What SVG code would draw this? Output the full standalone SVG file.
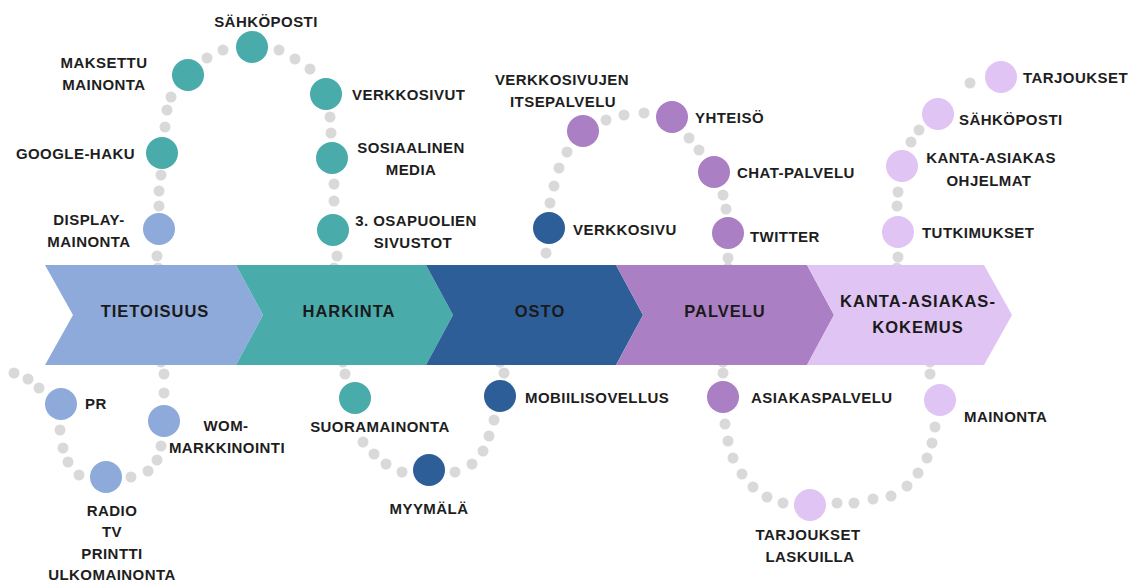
<svg xmlns="http://www.w3.org/2000/svg" width="1137" height="583" viewBox="0 0 1137 583">
  <style>
    .lbl { font-family: "Liberation Sans", Arial, sans-serif; font-weight: bold; font-size: 15px; letter-spacing: 0.45px; fill: #1e1e1e; }
    .mid { text-anchor: middle; }
    .stage { font-family: "Liberation Sans", Arial, sans-serif; font-weight: bold; font-size: 16.5px; letter-spacing: 1px; fill: #1a1a1a; text-anchor: middle; }
    .dot { fill: #d9d9d9; }
    .teal { fill: #4aabab; }
    .lblue { fill: #8eaadb; }
    .dblue { fill: #2e5e97; }
    .purple { fill: #ab7fc4; }
    .lav { fill: #e0c4f4; }
  </style>
  <rect width="1137" height="583" fill="#ffffff"/>

  <!-- dotted paths linking the touchpoints -->
  <g id="connectors">
    <!-- awareness / consideration arch -->
    <circle class="dot" cx="207" cy="58" r="5.5"/>
    <circle class="dot" cx="223" cy="50" r="5.5"/>
    <circle class="dot" cx="279" cy="50" r="5.5"/>
    <circle class="dot" cx="295" cy="59" r="5.5"/>
    <circle class="dot" cx="310" cy="69" r="5.5"/>
    <circle class="dot" cx="171" cy="97" r="5.5"/>
    <circle class="dot" cx="167" cy="110" r="5.5"/>
    <circle class="dot" cx="165" cy="127" r="5.5"/>
    <circle class="dot" cx="161" cy="175" r="5.5"/>
    <circle class="dot" cx="159" cy="191" r="5.5"/>
    <circle class="dot" cx="159" cy="206" r="5.5"/>
    <circle class="dot" cx="157" cy="256" r="5.5"/>
    <circle class="dot" cx="330" cy="117" r="5.5"/>
    <circle class="dot" cx="331" cy="133" r="5.5"/>
    <circle class="dot" cx="334" cy="184" r="5.5"/>
    <circle class="dot" cx="334" cy="201" r="5.5"/>
    <circle class="dot" cx="337" cy="256" r="5.5"/>
    <circle class="dot" cx="158" cy="268" r="5.5"/>
    <circle class="dot" cx="334" cy="268" r="5.5"/>
    <!-- purchase / service arch -->
    <circle class="dot" cx="606" cy="120" r="5.5"/>
    <circle class="dot" cx="624" cy="115" r="5.5"/>
    <circle class="dot" cx="644" cy="113" r="5.5"/>
    <circle class="dot" cx="567" cy="152" r="5.5"/>
    <circle class="dot" cx="559" cy="168" r="5.5"/>
    <circle class="dot" cx="554" cy="186" r="5.5"/>
    <circle class="dot" cx="550" cy="203" r="5.5"/>
    <circle class="dot" cx="546" cy="253" r="5.5"/>
    <circle class="dot" cx="689" cy="138" r="5.5"/>
    <circle class="dot" cx="699" cy="150" r="5.5"/>
    <circle class="dot" cx="723" cy="195" r="5.5"/>
    <circle class="dot" cx="726" cy="209" r="5.5"/>
    <circle class="dot" cx="728" cy="258" r="5.5"/>
    <circle class="dot" cx="728" cy="268" r="5.5"/>
    <!-- loyalty arc -->
    <circle class="dot" cx="970" cy="83" r="5.5"/>
    <circle class="dot" cx="919" cy="130" r="5.5"/>
    <circle class="dot" cx="911" cy="142" r="5.5"/>
    <circle class="dot" cx="898" cy="192" r="5.5"/>
    <circle class="dot" cx="897" cy="206" r="5.5"/>
    <circle class="dot" cx="898" cy="257" r="5.5"/>
    <circle class="dot" cx="897" cy="268" r="5.5"/>
    <!-- lower left curve -->
    <circle class="dot" cx="14" cy="373" r="5.5"/>
    <circle class="dot" cx="28" cy="379" r="5.5"/>
    <circle class="dot" cx="39" cy="388" r="5.5"/>
    <circle class="dot" cx="60" cy="430" r="5.5"/>
    <circle class="dot" cx="63" cy="448" r="5.5"/>
    <circle class="dot" cx="68" cy="462" r="5.5"/>
    <circle class="dot" cx="79" cy="475" r="5.5"/>
    <circle class="dot" cx="131" cy="477" r="5.5"/>
    <circle class="dot" cx="148" cy="471" r="5.5"/>
    <circle class="dot" cx="157" cy="460" r="5.5"/>
    <circle class="dot" cx="161" cy="446" r="5.5"/>
    <circle class="dot" cx="164" cy="374" r="5.5"/>
    <circle class="dot" cx="164" cy="393" r="5.5"/>
    <circle class="dot" cx="161" cy="362" r="5.5"/>
    <!-- lower middle curve -->
    <circle class="dot" cx="345" cy="374" r="5.5"/>
    <circle class="dot" cx="363" cy="442" r="5.5"/>
    <circle class="dot" cx="374" cy="454" r="5.5"/>
    <circle class="dot" cx="386" cy="464" r="5.5"/>
    <circle class="dot" cx="402" cy="472" r="5.5"/>
    <circle class="dot" cx="455" cy="472" r="5.5"/>
    <circle class="dot" cx="472" cy="464" r="5.5"/>
    <circle class="dot" cx="483" cy="451" r="5.5"/>
    <circle class="dot" cx="489" cy="436" r="5.5"/>
    <circle class="dot" cx="494" cy="420" r="5.5"/>
    <circle class="dot" cx="504" cy="373" r="5.5"/>
    <circle class="dot" cx="343" cy="362" r="5.5"/>
    <circle class="dot" cx="500" cy="362" r="5.5"/>
    <!-- lower right curve -->
    <circle class="dot" cx="723" cy="373" r="5.5"/>
    <circle class="dot" cx="725" cy="424" r="5.5"/>
    <circle class="dot" cx="728" cy="441" r="5.5"/>
    <circle class="dot" cx="733" cy="458" r="5.5"/>
    <circle class="dot" cx="742" cy="474" r="5.5"/>
    <circle class="dot" cx="753" cy="487" r="5.5"/>
    <circle class="dot" cx="767" cy="497" r="5.5"/>
    <circle class="dot" cx="783" cy="503" r="5.5"/>
    <circle class="dot" cx="837" cy="503" r="5.5"/>
    <circle class="dot" cx="854" cy="503" r="5.5"/>
    <circle class="dot" cx="873" cy="499" r="5.5"/>
    <circle class="dot" cx="891" cy="496" r="5.5"/>
    <circle class="dot" cx="907" cy="486" r="5.5"/>
    <circle class="dot" cx="918" cy="473" r="5.5"/>
    <circle class="dot" cx="927" cy="458" r="5.5"/>
    <circle class="dot" cx="932" cy="443" r="5.5"/>
    <circle class="dot" cx="935" cy="427" r="5.5"/>
    <circle class="dot" cx="930" cy="374" r="5.5"/>
    <circle class="dot" cx="723" cy="362" r="5.5"/>
    <circle class="dot" cx="930" cy="362" r="5.5"/>
  </g>

  <!-- stage chevrons -->
  <g id="stage-tietoisuus">
    <path class="lblue" d="M45,265 L236,265 L263,315 L236,365 L45,365 L73,315 Z"/>
    <text class="stage" x="155" y="317">TIETOISUUS</text>
  </g>
  <g id="stage-harkinta">
    <path class="teal" d="M236,265 L426,265 L453,315 L426,365 L236,365 L263,315 Z"/>
    <text class="stage" x="349" y="317">HARKINTA</text>
  </g>
  <g id="stage-osto">
    <path class="dblue" d="M426,265 L616,265 L643,315 L616,365 L426,365 L453,315 Z"/>
    <text class="stage" x="540" y="317">OSTO</text>
  </g>
  <g id="stage-palvelu">
    <path class="purple" d="M616,265 L807,265 L834,315 L807,365 L616,365 L643,315 Z"/>
    <text class="stage" x="725" y="317">PALVELU</text>
  </g>
  <g id="stage-kanta-asiakaskokemus">
    <path class="lav" d="M807,265 L984,265 L1012,315 L984,365 L807,365 L834,315 Z"/>
    <text class="stage" x="918" y="307">KANTA-ASIAKAS-</text>
    <text class="stage" x="918" y="333">KOKEMUS</text>
  </g>

  <!-- touchpoints above the band -->
  <g id="node-sahkoposti-1">
    <circle class="teal" cx="252" cy="47" r="16"/>
    <text class="lbl mid" x="266" y="27">SÄHKÖPOSTI</text>
  </g>
  <g id="node-maksettu-mainonta">
    <circle class="teal" cx="188" cy="75" r="16"/>
    <text class="lbl mid" x="104" y="68">MAKSETTU</text>
    <text class="lbl mid" x="104" y="90">MAINONTA</text>
  </g>
  <g id="node-google-haku">
    <circle class="teal" cx="162" cy="153" r="16"/>
    <text class="lbl" x="135" y="159" text-anchor="end">GOOGLE-HAKU</text>
  </g>
  <g id="node-display-mainonta">
    <circle class="lblue" cx="159" cy="229" r="16"/>
    <text class="lbl mid" x="89" y="225">DISPLAY-</text>
    <text class="lbl mid" x="89" y="247">MAINONTA</text>
  </g>
  <g id="node-verkkosivut">
    <circle class="teal" cx="326" cy="94" r="16"/>
    <text class="lbl" x="352" y="100">VERKKOSIVUT</text>
  </g>
  <g id="node-sosiaalinen-media">
    <circle class="teal" cx="332" cy="158" r="16"/>
    <text class="lbl mid" x="411" y="153">SOSIAALINEN</text>
    <text class="lbl mid" x="411" y="175">MEDIA</text>
  </g>
  <g id="node-osapuolien-sivustot">
    <circle class="teal" cx="333" cy="230" r="16"/>
    <text class="lbl mid" x="416" y="226">3. OSAPUOLIEN</text>
    <text class="lbl mid" x="413" y="248">SIVUSTOT</text>
  </g>
  <g id="node-itsepalvelu">
    <circle class="purple" cx="583" cy="131" r="16"/>
    <text class="lbl mid" x="562" y="85">VERKKOSIVUJEN</text>
    <text class="lbl mid" x="563" y="107">ITSEPALVELU</text>
  </g>
  <g id="node-yhteiso">
    <circle class="purple" cx="672" cy="117" r="16"/>
    <text class="lbl" x="695" y="123">YHTEISÖ</text>
  </g>
  <g id="node-chat-palvelu">
    <circle class="purple" cx="714" cy="172" r="16"/>
    <text class="lbl" x="737" y="178">CHAT-PALVELU</text>
  </g>
  <g id="node-twitter">
    <circle class="purple" cx="728" cy="233" r="16"/>
    <text class="lbl" x="750" y="242">TWITTER</text>
  </g>
  <g id="node-verkkosivu">
    <circle class="dblue" cx="549" cy="228" r="16"/>
    <text class="lbl" x="573" y="235">VERKKOSIVU</text>
  </g>
  <g id="node-tarjoukset">
    <circle class="lav" cx="1001" cy="77" r="16"/>
    <text class="lbl" x="1023" y="83">TARJOUKSET</text>
  </g>
  <g id="node-sahkoposti-2">
    <circle class="lav" cx="938" cy="114" r="16"/>
    <text class="lbl" x="959" y="125">SÄHKÖPOSTI</text>
  </g>
  <g id="node-kanta-asiakasohjelmat">
    <circle class="lav" cx="902" cy="166" r="16"/>
    <text class="lbl mid" x="991" y="163">KANTA-ASIAKAS</text>
    <text class="lbl mid" x="989" y="186">OHJELMAT</text>
  </g>
  <g id="node-tutkimukset">
    <circle class="lav" cx="898" cy="232" r="16"/>
    <text class="lbl" x="922" y="238">TUTKIMUKSET</text>
  </g>

  <!-- touchpoints below the band -->
  <g id="node-pr">
    <circle class="lblue" cx="61" cy="404" r="16"/>
    <text class="lbl" x="85" y="409">PR</text>
  </g>
  <g id="node-wom-markkinointi">
    <circle class="lblue" cx="164" cy="421" r="16"/>
    <text class="lbl mid" x="226" y="431">WOM-</text>
    <text class="lbl mid" x="227" y="453">MARKKINOINTI</text>
  </g>
  <g id="node-perinteinen-media">
    <circle class="lblue" cx="106" cy="477" r="16"/>
    <text class="lbl mid" x="112" y="516">RADIO</text>
    <text class="lbl mid" x="112" y="537">TV</text>
    <text class="lbl mid" x="112" y="559">PRINTTI</text>
    <text class="lbl mid" x="112" y="580">ULKOMAINONTA</text>
  </g>
  <g id="node-suoramainonta">
    <circle class="teal" cx="355" cy="398" r="16"/>
    <text class="lbl mid" x="380" y="432">SUORAMAINONTA</text>
  </g>
  <g id="node-myymala">
    <circle class="dblue" cx="429" cy="470" r="16"/>
    <text class="lbl mid" x="429" y="514">MYYMÄLÄ</text>
  </g>
  <g id="node-mobiilisovellus">
    <circle class="dblue" cx="500" cy="396" r="16"/>
    <text class="lbl" x="525" y="403">MOBIILISOVELLUS</text>
  </g>
  <g id="node-asiakaspalvelu">
    <circle class="purple" cx="723" cy="397" r="16"/>
    <text class="lbl" x="751" y="403">ASIAKASPALVELU</text>
  </g>
  <g id="node-mainonta">
    <circle class="lav" cx="940" cy="400" r="16"/>
    <text class="lbl" x="964" y="422">MAINONTA</text>
  </g>
  <g id="node-tarjoukset-laskuilla">
    <circle class="lav" cx="810" cy="505" r="16"/>
    <text class="lbl mid" x="808" y="540">TARJOUKSET</text>
    <text class="lbl mid" x="810" y="562">LASKUILLA</text>
  </g>
</svg>
